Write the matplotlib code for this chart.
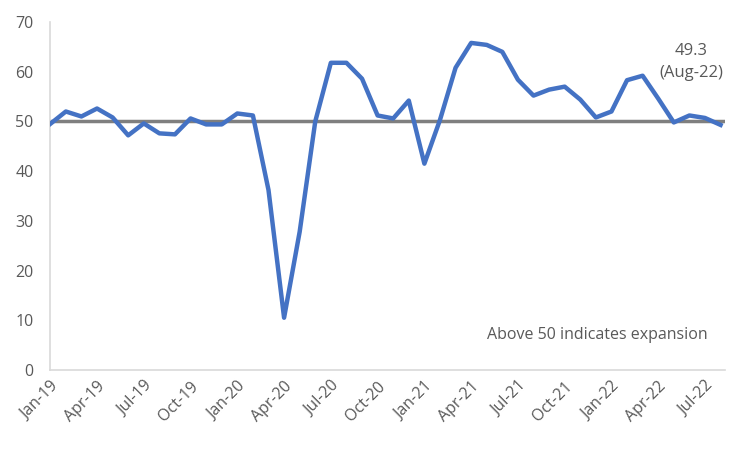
import matplotlib

matplotlib.use("Agg")
import matplotlib.pyplot as plt
import pandas as pd

plt.rcParams["font.family"] = ["Open Sans", "DejaVu Sans"]

months = pd.date_range("2019-01-01", "2022-08-01", freq="MS")
values = [49.5, 52.0, 51.0, 52.6, 50.8, 47.2, 49.6, 47.6, 47.4, 50.6, 49.4, 49.4,
          51.6, 51.2, 36.2, 10.5, 27.8, 50.0, 61.8, 61.8, 58.6, 51.2, 50.6, 54.2,
          41.5, 50.3, 60.8, 65.8, 65.4, 64.0, 58.4, 55.2, 56.4, 57.0, 54.4, 50.8,
          52.0, 58.3, 59.2, 54.6, 49.8, 51.2, 50.7, 49.3]
labels = [m.strftime("%b-%y") for m in months]
threshold = 50
yticks = list(range(0, 80, 10))

BLUE = "#4472C4"
GREY = "#7F7F7F"
TXT = "#595959"

fig = plt.figure(figsize=(7.5, 4.5), dpi=100)
ax = fig.add_axes([0.067, 0.178, 0.9, 0.773])

x = list(range(len(values)))
ax.axhline(threshold, color=GREY, lw=2.5, zorder=2)
ax.plot(x, values, color=BLUE, lw=3.2, zorder=3, solid_joinstyle="round")

ax.set_xlim(0, len(values) - 1 + 0.3)
ax.set_ylim(0, 70)
ax.set_yticks(yticks)
ax.set_xticks(x[::3])
ax.set_xticklabels(labels[::3], rotation=45, ha="right", rotation_mode="anchor")
ax.tick_params(colors=TXT, labelsize=11.5, length=0)
ax.tick_params(axis="x", pad=6)
ax.tick_params(axis="y", pad=12)

for side in ("top", "right"):
    ax.spines[side].set_visible(False)
for side in ("left", "bottom"):
    ax.spines[side].set_color("#D9D9D9")
    ax.spines[side].set_linewidth(1.2)

ax.text(len(values) - 2.9, 62.0, f"{values[-1]}\n(Aug-22)", ha="center", va="center",
        color=TXT, fontsize=12, linespacing=1.5)
ax.text(len(values) - 1.8, 7.0, "Above 50 indicates expansion", ha="right", va="center",
        color=TXT, fontsize=11.5)

fig.savefig("out.png", dpi=100)
